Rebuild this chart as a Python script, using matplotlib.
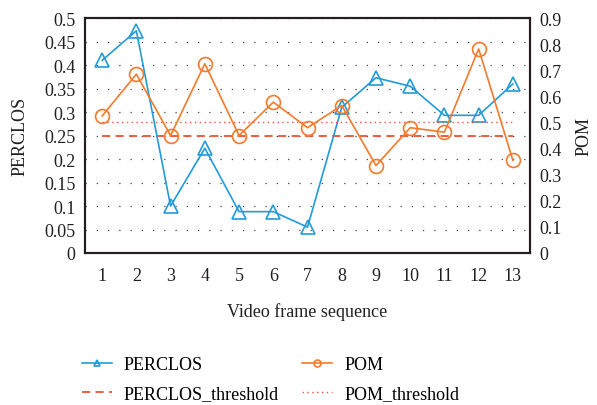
import matplotlib
matplotlib.use("Agg")
import matplotlib.pyplot as plt

plt.rcParams['font.family'] = ['Liberation Serif', 'DejaVu Serif']

frames = list(range(1, 14))
perclos = [0.41, 0.473, 0.10, 0.223, 0.088, 0.088, 0.055, 0.31, 0.373, 0.355, 0.293, 0.293, 0.36]
pom = [0.525, 0.685, 0.45, 0.725, 0.45, 0.578, 0.48, 0.565, 0.335, 0.48, 0.463, 0.782, 0.355]
perclos_threshold = 0.25
pom_threshold = 0.5
left_ticks = [0, 0.05, 0.1, 0.15, 0.2, 0.25, 0.3, 0.35, 0.4, 0.45, 0.5]
left_labels = ['0', '0.05', '0.1', '0.15', '0.2', '0.25', '0.3', '0.35', '0.4', '0.45', '0.5']
right_ticks = [0, 0.1, 0.2, 0.3, 0.4, 0.5, 0.6, 0.7, 0.8, 0.9]
right_labels = ['0', '0.1', '0.2', '0.3', '0.4', '0.5', '0.6', '0.7', '0.8', '0.9']

blue = '#229bd8'
orange = '#f47a2c'
red = '#ee5233'
txt = '#231f20'
fs = 13

fig = plt.figure(figsize=(5.97, 4.06), dpi=100)
ax = fig.add_axes([0.1424, 0.3744, 0.7454, 0.5786])
ax2 = ax.twinx()

l1, = ax.plot(frames, perclos, color=blue, lw=1.2, marker='^', ms=10,
              mfc='none', mec=blue, mew=1.2, label='PERCLOS', zorder=3)
l3, = ax.plot([frames[0], frames[-1]], [perclos_threshold] * 2, color=red, lw=1.3,
              ls=(0, (4.5, 3)), label='PERCLOS_threshold', zorder=2)
l2, = ax2.plot(frames, pom, color=orange, lw=1.2, marker='o', ms=10,
               mfc='none', mec=orange, mew=1.2, label='POM', zorder=3)
l4, = ax2.plot([frames[0], frames[-1]], [pom_threshold] * 2, color=red, lw=1.0,
               ls=(0, (1, 2.5)), label='POM_threshold', zorder=2)

ax.set_xlim(0.5, 13.5)
ax.set_ylim(0, 0.5)
ax2.set_ylim(0, 0.9)
ax.set_xticks(frames)
ax.set_xticklabels([str(f) for f in frames], fontsize=fs)
ax.set_yticks(left_ticks)
ax.set_yticklabels(left_labels, fontsize=fs)
ax2.set_yticks(right_ticks)
ax2.set_yticklabels(right_labels, fontsize=fs)
ax.tick_params(axis='y', length=0, pad=7, colors=txt)
ax2.tick_params(axis='y', length=0, pad=7, colors=txt)
ax.tick_params(axis='x', length=0, pad=10, colors=txt)

ax.yaxis.grid(True, color='#444444', ls=(0, (1, 8)), lw=0.9)
ax.set_axisbelow(True)

for sp in list(ax.spines.values()) + list(ax2.spines.values()):
    sp.set_linewidth(1.5)
    sp.set_color(txt)

ax.set_ylabel('PERCLOS', fontsize=fs, color=txt, labelpad=11)
ax2.set_ylabel('POM', fontsize=fs, color=txt, labelpad=10)
ax.set_xlabel('Video frame sequence', fontsize=fs, color=txt, labelpad=13)

fig.legend(handles=[l1, l3, l2, l4], loc='upper left', bbox_to_anchor=(0.11, 0.16),
           ncol=2, frameon=False, fontsize=fs, markerscale=0.5, handlelength=1.66,
           columnspacing=1.3, handletextpad=0.66, labelspacing=0.68)

fig.savefig('out.png', dpi=100)
